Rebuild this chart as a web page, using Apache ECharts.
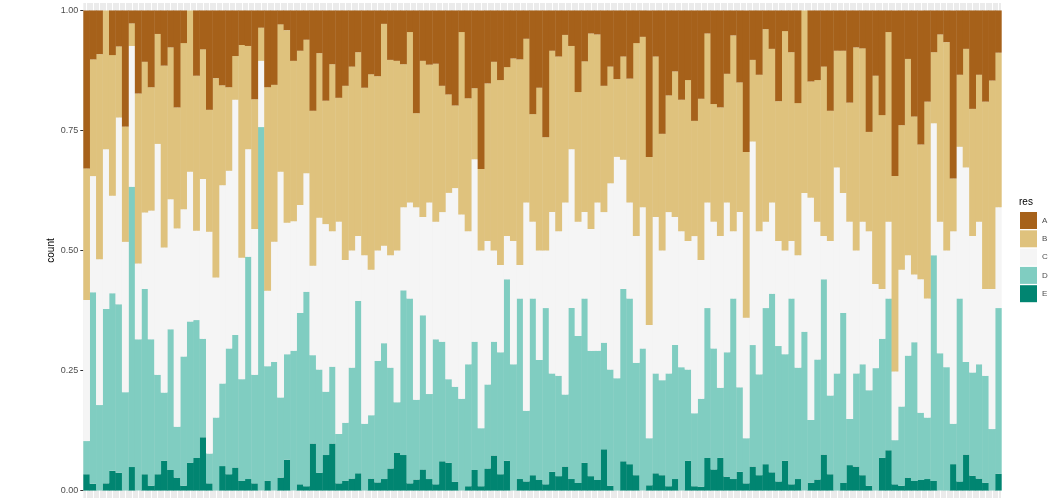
<!DOCTYPE html>
<html>
<head>
<meta charset="utf-8">
<script src="https://cdn.jsdelivr.net/npm/echarts@6/dist/echarts.min.js"></script>
<style>
  html, body { margin: 0; padding: 0; background: #fff; }
  #chart-container { width: 1056px; height: 498px; }
</style>
</head>
<body>
<div id="chart-container"></div>
<script>
// cumulative share at the top of each stacked layer, bar by bar
const topE = [
  .034, .014, 0, .015, .041, .037, 0, .049, 0, .034,
  .010, .034, .062, .043, .027, .010, .058, .068, .111, .015,
  0, .051, .034, .048, .020, .024, .015, 0, .020, 0,
  .027, .064, 0, .013, .009, .098, .037, .074, .098, .015,
  .020, .025, .036, 0, .025, .017, .024, .046, .079, .074,
  .015, .023, .044, .024, .013, .061, .058, .018, 0, .009,
  .043, .009, .046, .073, .034, .062, 0, .024, .019, .032,
  .022, .013, .039, .030, .050, .024, .016, .058, .030, .022,
  .086, .010, 0, .061, .055, .032, 0, .011, .036, .032,
  .009, .024, 0, .062, .009, .008, .068, .044, .068, .029,
  .024, .039, .015, .050, .032, .055, .038, .019, .062, .013,
  .024, 0, .016, .023, .075, .034, 0, .016, .053, .050,
  .032, .010, 0, .068, .084, .013, .010, .027, .020, .022,
  .024, .020, 0, 0, .055, .019, .075, .031, .025, .016,
  0, .035
];
const topD = [
  .103, .413, .178, .378, .411, .388, .205, .633, .315, .420,
  .315, .241, .204, .336, .133, .279, .352, .355, .316, .077,
  .152, .223, .296, .324, .232, .487, .241, .757, .259, .268,
  .194, .284, .291, .370, .414, .282, .252, .206, .258, .118,
  .141, .256, .395, .139, .157, .270, .307, .256, .184, .417,
  .400, .189, .365, .201, .315, .310, .232, .216, .191, .263,
  .310, .130, .221, .310, .288, .440, .263, .400, .166, .400,
  .272, .380, .244, .239, .200, .380, .322, .400, .291, .291,
  .308, .252, .234, .420, .400, .266, .296, .109, .244, .230,
  .244, .303, .257, .252, .161, .191, .380, .296, .214, .288,
  .400, .215, .109, .303, .242, .380, .410, .301, .284, .400,
  .256, .331, .147, .273, .440, .198, .244, .370, .149, .244,
  .263, .209, .255, .316, .400, .105, .175, .281, .309, .162,
  .152, .490, .286, .257, .139, .400, .268, .246, .263, .239,
  .128, .380
];
const topC = [
  .397, .655, .482, .711, .614, .777, .518, .926, .473, .579,
  .583, .722, .506, .607, .546, .586, .664, .541, .649, .539,
  .444, .636, .666, .814, .485, .711, .545, .895, .416, .518,
  .664, .558, .561, .595, .661, .468, .568, .555, .540, .560,
  .480, .500, .530, .490, .460, .500, .510, .490, .500, .590,
  .600, .590, .570, .600, .560, .580, .620, .630, .575, .540,
  .690, .500, .520, .500, .470, .530, .520, .470, .600, .560,
  .500, .500, .580, .540, .600, .711, .560, .580, .545, .600,
  .580, .640, .695, .689, .600, .530, .590, .345, .570, .500,
  .580, .570, .540, .520, .530, .480, .600, .560, .530, .600,
  .540, .580, .360, .727, .540, .560, .600, .520, .500, .520,
  .490, .620, .610, .560, .530, .520, .673, .620, .560, .500,
  .560, .540, .430, .420, .560, .248, .460, .490, .450, .440,
  .400, .765, .560, .500, .540, .716, .673, .530, .560, .420,
  .420, .590
];
const topB = [
  .671, .898, .909, 1, .907, .925, .758, .973, .827, .893,
  .840, .951, .885, .923, .798, .932, 1, .864, .919, .793,
  .859, .844, .840, .905, .928, .926, .815, .964, .840, .845,
  .971, .959, .895, .916, .939, .791, .911, .812, .888, .818,
  .843, .883, .913, .839, .867, .863, .972, .897, .895, .888,
  .955, .786, .895, .887, .889, .843, .825, .802, .955, .817,
  .838, .670, .848, .893, .855, .882, .900, .898, .941, .784,
  .839, .736, .916, .904, .949, .926, .830, .894, .952, .950,
  .843, .883, .857, .904, .858, .932, .945, .695, .904, .743,
  .823, .873, .814, .855, .770, .816, .952, .805, .798, .868,
  .948, .850, .705, .897, .866, .961, .920, .811, .957, .913,
  .807, 1, .852, .855, .883, .791, .916, .916, .808, .923,
  .921, .747, .864, .782, .955, .655, .761, .899, .779, .721,
  .810, .913, .950, .934, .650, .866, .920, .795, .866, .810,
  .854, .912
];

const resLevels = ["A", "B", "C", "D", "E"];
const resColors = ["#A6611A", "#DFC27D", "#F5F5F5", "#80CDC1", "#018571"];
const yTicks = [0, 0.25, 0.5, 0.75, 1];

const barNames = topE.map((_, i) => "b" + (i + 1));
// layer shares = gap between consecutive layer tops
const shares = {
  A: topB.map((b) => 1 - b),
  B: topB.map((b, i) => b - topC[i]),
  C: topC.map((c, i) => c - topD[i]),
  D: topD.map((d, i) => d - topE[i]),
  E: topE.slice(),
};

const chart = echarts.init(document.getElementById("chart-container"));

// stack from the bottom: E first, A last
const series = resLevels.slice().reverse().map((lvl) => ({
  name: lvl,
  type: "bar",
  stack: "res",
  xAxisIndex: 0,
  // slightly wider than the band so neighbouring bars overlap and no seams show
  barWidth: "106%",
  itemStyle: { color: resColors[resLevels.indexOf(lvl)] },
  data: shares[lvl],
  silent: true,
}));

const option = {
  animation: false,
  backgroundColor: "#fff",
  textStyle: { fontFamily: "Liberation Sans, Arial, sans-serif" },
  title: {
    text: "res",
    left: 1019,
    top: 197,
    textStyle: { fontSize: 10, fontWeight: "normal", color: "#000" },
    padding: 0,
  },
  legend: {
    data: resLevels,
    orient: "vertical",
    left: 1020,
    top: 212,
    padding: 0,
    itemWidth: 17,
    itemHeight: 17,
    itemGap: 1.3,
    icon: "rect",
    selectedMode: false,
    textStyle: { fontSize: 8, color: "#4D4D4D" },
  },
  grid: {
    left: 83.3,
    right: 54.3,
    top: 3,
    bottom: 0,
    show: true,
    backgroundColor: "#EBEBEB",
    borderWidth: 0,
  },
  xAxis: [
    {
      type: "category",
      data: barNames,
      axisLine: { show: false },
      axisTick: { show: false },
      axisLabel: { show: false },
      splitLine: { show: false },
    },
    {
      // half-step categories so white grid lines sit on bar centres
      type: "category",
      data: barNames.flatMap((n) => [n + "l", n + "r"]),
      position: "bottom",
      axisLine: { show: false },
      axisTick: { show: false },
      axisLabel: { show: false },
      splitLine: {
        show: true,
        interval: (idx) => idx % 2 === 1,
        lineStyle: { color: "#FFFFFF", width: 1 },
      },
    },
  ],
  yAxis: {
    type: "value",
    min: -0.0155,
    max: 1.0155,
    name: "count",
    nameLocation: "middle",
    nameGap: 27,
    nameMoveOverlap: false,
    nameTextStyle: { fontSize: 10, color: "#000" },
    axisLine: { show: false },
    axisTick: {
      show: true,
      length: 3,
      customValues: yTicks,
      lineStyle: { color: "#333" },
    },
    axisLabel: {
      customValues: yTicks,
      formatter: (v) => v.toFixed(2),
      fontSize: 9,
      color: "#4D4D4D",
      margin: 5,
    },
    splitLine: { show: false },
  },
  series: series,
};

chart.setOption(option);
</script>
</body>
</html>
